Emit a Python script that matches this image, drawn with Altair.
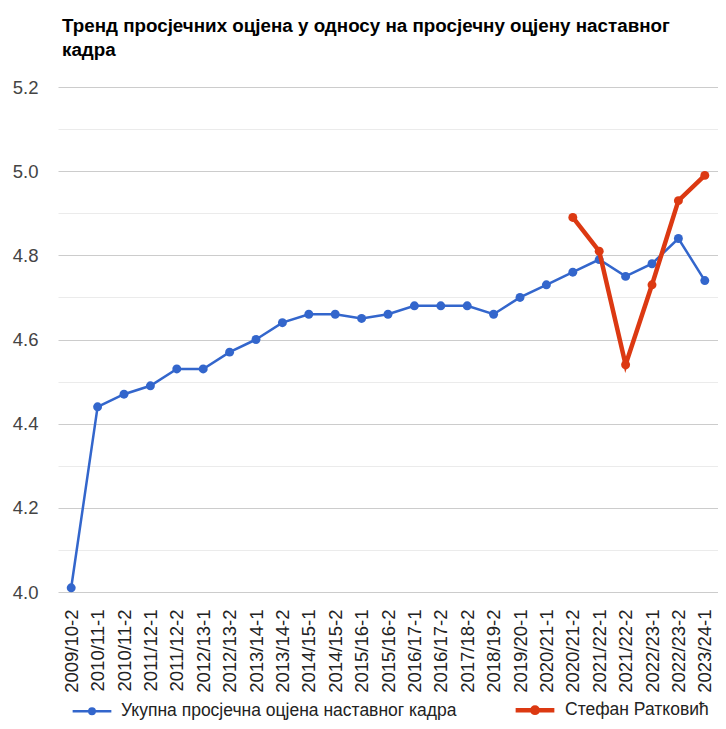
import altair as alt
import pandas as pd

categories = [
    "2009/10-2", "2010/11-1", "2010/11-2", "2011/12-1", "2011/12-2",
    "2012/13-1", "2012/13-2", "2013/14-1", "2013/14-2", "2014/15-1",
    "2014/15-2", "2015/16-1", "2015/16-2", "2016/17-1", "2016/17-2",
    "2017/18-2", "2018/19-2", "2019/20-1", "2020/21-1", "2020/21-2",
    "2021/22-1", "2021/22-2", "2022/23-1", "2022/23-2", "2023/24-1",
]
overall = [
    4.01, 4.44, 4.47, 4.49, 4.53, 4.53, 4.57, 4.60, 4.64, 4.66,
    4.66, 4.65, 4.66, 4.68, 4.68, 4.68, 4.66, 4.70, 4.73, 4.76,
    4.79, 4.75, 4.78, 4.84, 4.74,
]
stefan_categories = [
    "2020/21-2", "2021/22-1", "2021/22-2", "2022/23-1", "2022/23-2", "2023/24-1",
]
stefan = [4.89, 4.81, 4.54, 4.73, 4.93, 4.99]
series_names = ["Укупна просјечна оцјена наставног кадра", "Стефан Ратковић"]
series_colors = ["#3366cc", "#dc3912"]
y_ticks = [4.0, 4.1, 4.2, 4.3, 4.4, 4.5, 4.6, 4.7, 4.8, 4.9, 5.0, 5.1, 5.2]
title_lines = [
    "Тренд просјечних оцјена у односу на просјечну оцјену наставног",
    "кадра",
]

df_all = pd.DataFrame({"period": categories, "value": overall, "series": series_names[0]})
df_st = pd.DataFrame({"period": stefan_categories, "value": stefan, "series": series_names[1]})
data = pd.concat([df_all, df_st], ignore_index=True)

FONT = "Liberation Sans"

color_scale = alt.Scale(domain=series_names, range=series_colors)
width_scale = alt.Scale(domain=series_names, range=[2.5, 4.5])

legend_symbol = (
    "M-1,0H1"
    "M0.14,0A0.14,0.14,0,1,1,-0.14,0A0.14,0.14,0,1,1,0.14,0Z"
    "M0.07,0A0.07,0.07,0,1,1,-0.07,0A0.07,0.07,0,1,1,0.07,0Z"
)

legend = alt.Legend(
    title=None,
    orient="none",
    legendX=13,
    legendY=601,
    direction="horizontal",
    symbolType=legend_symbol,
    symbolSize=1500,
    labelFont=FONT,
    labelFontSize=17.5,
    labelColor="#222222",
    labelOffset=8,
    labelLimit=0,
    columnPadding=49,
)

x_enc = alt.X(
    "period:N",
    sort=categories,
    scale=alt.Scale(type="point", padding=0.5),
    axis=alt.Axis(
        title=None,
        labelAngle=-90,
        labelFont=FONT,
        labelFontSize=18.5,
        labelColor="#222222",
        labelPadding=17,
        ticks=False,
        tickSize=0,
        domain=False,
        grid=False,
        labelOverlap=False,
    ),
)
y_enc = alt.Y(
    "value:Q",
    scale=alt.Scale(domain=[4.0, 5.2], nice=False, zero=False),
    axis=alt.Axis(
        title=None,
        values=y_ticks,
        labelExpr="round(datum.value*10) % 2 == 0 ? format(datum.value, '.1f') : ''",
        labelFont=FONT,
        labelFontSize=18.5,
        labelColor="#444444",
        labelPadding=20,
        ticks=False,
        domain=False,
        grid=True,
        gridColor={
            "condition": {"test": "round(datum.value*10) % 2 == 0", "value": "#cccccc"},
            "value": "#ebebeb",
        },
        gridWidth=1,
    ),
)

base = alt.Chart(data).mark_line(
    point=alt.OverlayMarkDef(filled=True, size=80, opacity=1)
).encode(
    x=x_enc,
    y=y_enc,
    color=alt.Color("series:N", scale=color_scale, legend=legend),
    strokeWidth=alt.StrokeWidth("series:N", scale=width_scale, legend=legend),
)

blue = base.transform_filter(alt.datum.series == series_names[0])
red = base.transform_filter(alt.datum.series == series_names[1])

chart = alt.layer(blue, red).properties(
    width=660,
    height=505,
    background="white",
    autosize=alt.AutoSizeParams(type="none"),
    padding={"left": 50, "top": 79, "right": 0, "bottom": 129},
    title=alt.TitleParams(
        text=title_lines,
        anchor="start",
        frame="group",
        font=FONT,
        fontSize=18.8,
        fontWeight="bold",
        color="#000000",
        lineHeight=24,
        offset=18,
        dx=4,
    ),
).configure_view(
    strokeWidth=0, stroke="transparent"
).configure_axis(
    domain=False, ticks=False
)

chart.save("out.html", embed_options={"renderer": "svg", "actions": False})
